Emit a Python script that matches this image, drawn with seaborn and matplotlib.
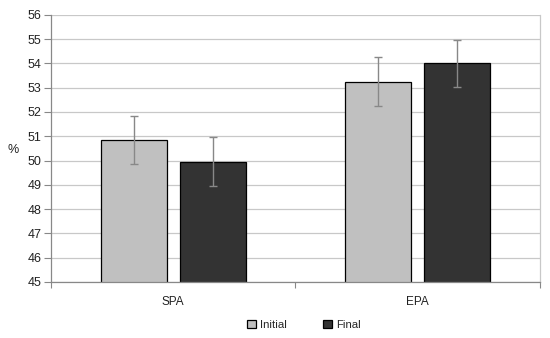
import matplotlib
matplotlib.use("Agg")
import matplotlib.pyplot as plt
import seaborn as sns
import pandas as pd
import numpy as np

categories = ["SPA", "EPA"]
series = ["Initial", "Final"]
initial_values = [50.85, 53.25]
final_values = [49.95, 54.0]
initial_err = [1.0, 1.0]
final_err = [1.0, 0.98]
y_ticks = list(range(45, 57))

df = pd.DataFrame({
    "group": categories * 2,
    "series": [series[0]] * 2 + [series[1]] * 2,
    "value": initial_values + final_values,
    "err": initial_err + final_err,
})

sns.set_theme(style="white")
plt.rcParams["font.family"] = ["Liberation Sans", "DejaVu Sans"]

fig = plt.figure(figsize=(5.5, 3.38), dpi=100)
ax = fig.add_axes([0.0927, 0.166, 0.889, 0.79])

sns.barplot(data=df, x="group", y="value", hue="series", order=categories,
            hue_order=series, palette=["#c0c0c0", "#333333"], width=0.646,
            gap=0.164, errorbar=None, edgecolor="black", linewidth=0.9,
            ax=ax, zorder=2)

# error bars at the bar centres from the drawn patches
for patch_container, s in zip(ax.containers, series):
    sub = df[df["series"] == s].set_index("group").loc[categories]
    xs = [p.get_x() + p.get_width() / 2 for p in patch_container]
    ax.errorbar(xs, sub["value"].values, yerr=sub["err"].values, fmt="none",
                ecolor="#888888", elinewidth=1.0, capsize=3, capthick=1.0, zorder=3)

ax.set_ylim(45, 56)
ax.set_yticks(y_ticks)
ax.set_xlim(-0.5, 1.5)
ax.yaxis.grid(True, color="#c8c8c8", linewidth=0.9, zorder=0)
ax.set_axisbelow(True)
ax.set_xlabel("")
ax.set_ylabel("%", rotation=0, fontsize=9, color="#222222", va="center", ha="center")
ax.yaxis.set_label_coords(-0.078, 0.494)

ax.tick_params(axis="y", which="major", length=5, width=0.8, color="#888888",
               labelsize=9, labelcolor="#222222", pad=2, left=True)
ax.tick_params(axis="x", which="major", length=0, labelsize=8.5,
               labelcolor="#222222", pad=10)
ax.set_xticks([-0.5, 0.5, 1.5], minor=True)
ax.tick_params(axis="x", which="minor", length=4, width=0.8, color="#888888",
               bottom=True)

for side in ["left", "bottom"]:
    ax.spines[side].set_color("#888888")
    ax.spines[side].set_linewidth(0.9)
ax.spines["right"].set_color("#c8c8c8")
ax.spines["right"].set_linewidth(0.9)
ax.spines["top"].set_visible(False)

ax.legend(title=None, loc="center", bbox_to_anchor=(0.553, 0.038),
          bbox_transform=fig.transFigure, ncol=2, frameon=False, fontsize=8.2,
          handlelength=0.75, handleheight=0.75, handletextpad=0.4,
          columnspacing=3.2)

fig.savefig("out.png", dpi=100)
